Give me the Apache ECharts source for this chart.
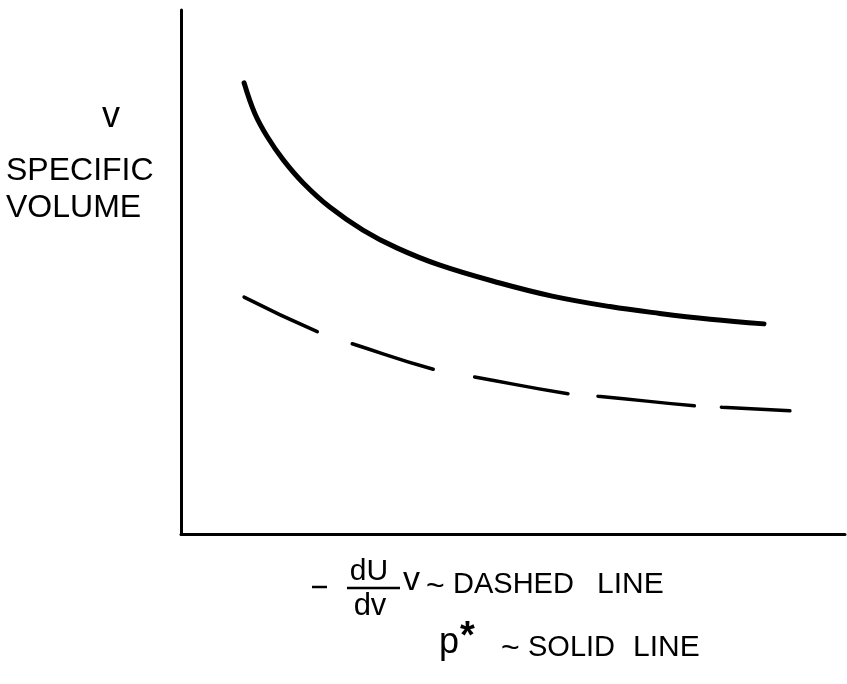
<!DOCTYPE html>
<html>
<head>
<meta charset="utf-8">
<script src="https://cdn.jsdelivr.net/npm/echarts@6/dist/echarts.min.js"></script>
<style>
html,body{margin:0;padding:0;background:#fff;}
#c{width:847px;height:684px;}
</style>
</head>
<body>
<div id="c"></div>
<script>
// Solid line: p* vs specific volume (x, y in axis units 0..100)
var solidX = [9.5, 11.1, 13.0, 15.4, 18.4, 22.4, 27.4, 32.5, 39.0, 48.0, 55.9, 64.6, 72.1, 79.7, 87.8];
var solidY = [86.1, 80.3, 75.8, 71.4, 67.0, 62.4, 58.0, 54.6, 51.3, 47.9, 45.4, 43.4, 42.1, 41.0, 40.1];
// Dashed line: -(dU/dv) v
var dashX = [9.5, 20.9, 25.8, 38.4, 44.1, 58.7, 62.8, 77.9, 81.5, 91.7];
var dashY = [45.2, 38.4, 36.3, 31.3, 30.0, 26.7, 26.3, 24.4, 24.2, 23.5];

function pairs(xs, ys){ return xs.map(function(x,i){ return [x, ys[i]]; }); }

var FONT = '"Liberation Sans", Arial, sans-serif';
function txt(t, x, y, size, align, extra){
  var s = {text:t, x:x, y:y, fill:'#000', font: (extra||'') + ' ' + size + 'px ' + FONT,
           textAlign: align || 'left', textVerticalAlign:'middle'};
  return {type:'text', style:s, silent:true};
}
function ln(x1,y1,x2,y2,w){
  return {type:'line', shape:{x1:x1,y1:y1,x2:x2,y2:y2}, style:{stroke:'#000', lineWidth:w}, silent:true};
}

var chart = echarts.init(document.getElementById('c'));
chart.setOption({
  backgroundColor:'#fff',
  animation:false,
  grid:{left:181, right:2, top:10, bottom:150},
  xAxis:{type:'value', min:0, max:100,
    axisLine:{show:true, lineStyle:{color:'#000', width:3}},
    axisTick:{show:false}, axisLabel:{show:false}, splitLine:{show:false}},
  yAxis:{type:'value', min:0, max:100,
    axisLine:{show:true, lineStyle:{color:'#000', width:3}},
    axisTick:{show:false}, axisLabel:{show:false}, splitLine:{show:false}},
  series:[
    {type:'line', data:pairs(solidX, solidY), smooth:0.4, showSymbol:false,
     lineStyle:{color:'#000', width:5, cap:'round'}},
    {type:'line', data:pairs(dashX, dashY), smooth:0.5, showSymbol:false,
     lineStyle:{color:'#000', width:3.5, cap:'round', type:[81,37,85,42,95,30,97,27,100]}}
  ],
  graphic:[
    txt('v', 111, 117, 36, 'center'),
    txt('SPECIFIC', 6, 171, 32, 'left'),
    txt('VOLUME', 6, 208, 32, 'left'),
    ln(312,587,327,587,2.5),
    txt('dU', 369, 572, 30, 'center'),
    ln(347,588,400,588,2.5),
    txt('dv', 370, 606, 31, 'center'),
    txt('v', 403, 581, 34, 'left'),
    txt('~', 426, 587, 32, 'left'),
    txt('DASHED', 453, 585, 29, 'left'),
    txt('LINE', 597, 585, 30, 'left'),
    txt('p', 439, 643, 36, 'left'),
    txt('*', 460, 638, 38, 'left', 'bold'),
    txt('~', 501, 649, 32, 'left'),
    txt('SOLID', 528, 648, 29, 'left'),
    txt('LINE', 633, 648, 30, 'left')
  ]
});
</script>
</body>
</html>
